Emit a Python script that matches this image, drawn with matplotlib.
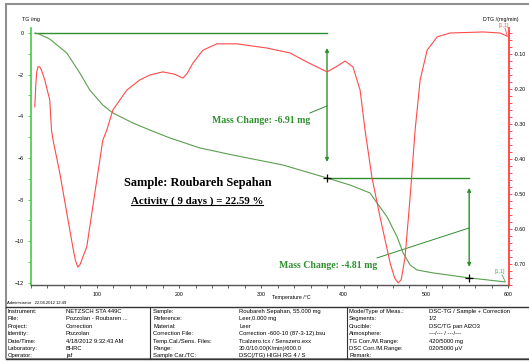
import numpy as np
import matplotlib
matplotlib.use("Agg")
import matplotlib.pyplot as plt
from matplotlib.ticker import MultipleLocator, FormatStrFormatter
from matplotlib.lines import Line2D
from matplotlib.patches import Rectangle

# TG curve (temperature / mass change)
tg_temp = np.array([24.6, 30, 42.8, 63.5, 79.3, 91.5, 107.3, 119.5, 143.8, 164.5, 188.8,
                    225.3, 265.5, 326.3, 379.8, 407.8, 432, 440.6, 452.8, 465, 472.3,
                    480.8, 489.3, 508.8, 552.6, 596.4])
tg_mass = np.array([0, -0.05, -0.29, -0.96, -1.92, -2.74, -3.46, -3.84, -4.32, -4.66, -5.04,
                    -5.52, -5.86, -6.34, -6.96, -7.30, -7.68, -8.16, -8.83, -9.79, -10.56,
                    -11.14, -11.38, -11.52, -11.76, -11.95])

# DTG curve
dtg_temp = np.array([24.6, 25.8, 27.0, 28.6, 30.7, 32.7, 36.7, 42.8, 44.9, 46.8, 55, 63.5,
                     70.8, 74, 76.9, 80, 83, 87.8, 100, 107.3, 112.2, 119.5, 136.5, 152.3,
                     164.5, 180.3, 195, 204.6, 210, 216.8, 229, 246, 270.3, 306.8, 334.8,
                     355.5, 379.8, 392, 401.7, 411.4, 420, 426, 434.5, 444.3, 456.5, 462,
                     466.2, 470, 474.7, 480.8, 486.9, 493, 501.5, 513.7, 529.4, 569.6, 590,
                     598.8])
dtg_val = np.array([-0.251, -0.189, -0.151, -0.136, -0.137, -0.146, -0.174, -0.231, -0.317,
                    -0.346, -0.440, -0.554, -0.651, -0.690, -0.709, -0.700, -0.680, -0.651,
                    -0.460, -0.346, -0.317, -0.260, -0.203, -0.174, -0.160, -0.151, -0.158,
                    -0.169, -0.155, -0.126, -0.089, -0.071, -0.071, -0.083, -0.097, -0.123,
                    -0.151, -0.135, -0.120, -0.137, -0.203, -0.317, -0.454, -0.566, -0.697,
                    -0.740, -0.754, -0.745, -0.680, -0.509, -0.317, -0.174, -0.089, -0.051,
                    -0.040, -0.037, -0.040, -0.049])

# mass change steps: arrow temperature, level before, level after
step1 = (379.8, 0.0, -6.96)
step2 = (552.6, -6.96, -11.76)

info_col1 = [("Instrument:", "NETZSCH STA 449C"), ("File:", "Pozzolan - Roubaren ..."),
             ("Project:", "Correction"), ("Identity:", "Pozzolan"),
             ("Date/Time:", "4/18/2012 9:32:43 AM"), ("Laboratory:", "BHRC"),
             ("Operator:", "jaf")]
info_col2 = [("Sample:", "Roubareh Sepahan, 55.000 mg"), ("Reference:", "Leer,0.000 mg"),
             ("Material:", "Leer"), ("Correction File:", "Correction -600-10 (87-3-12).bsu"),
             ("Temp.Cal./Sens. Files:", "Tcalzero.tcx / Senszero.exx"),
             ("Range:", "30.0/10.00(K/min)/600.0"), ("Sample Car./TC:", "DSC(/TG) HIGH RG 4 / S")]
info_col3 = [("Mode/Type of Meas.:", "DSC-TG / Sample + Correction"), ("Segments:", "1/2"),
             ("Crucible:", "DSC/TG pan Al2O3"), ("Atmosphere:", "---/--- / ---/---"),
             ("TG Corr./M.Range:", "420/5000 mg"), ("DSC Corr./M.Range:", "020/5000 \u00b5V"),
             ("Remark:", "")]

W, H = 529, 363
DGREEN = "#2f8f2f"
TGCOL = "#5c9e50"
RED = "#ff4a4a"
TICKFS = 3.8

plt.rcParams["font.family"] = ["Liberation Sans", "DejaVu Sans"]
fig = plt.figure(figsize=(W / 100, H / 100), dpi=100)


def fx(px):
    return px / W


def fy(py):
    return 1 - py / H


ax = fig.add_axes([fx(31), fy(285), fx(509) - fx(31), fy(28) - fy(285)])
ax2 = ax.twinx()

ax.plot(tg_temp, tg_mass, color=TGCOL, lw=0.8, zorder=3)
ax2.plot(dtg_temp, dtg_val, color=RED, lw=0.8)

ax.set_xlim(20, 601)
ax.set_ylim(-12.1, 0.24)
ax2.set_ylim(-0.760, -0.0257)

# step lines
ax.plot([tg_temp[0], step1[0]], [step1[1], step1[1]], color=DGREEN, lw=1)
ax.plot([step1[0], step2[0]], [step2[1], step2[1]], color=DGREEN, lw=1)
arrow_kw = dict(arrowstyle="<|-|>", color=DGREEN, lw=1, mutation_scale=5, shrinkA=0, shrinkB=0)
ax.annotate("", xy=(step1[0], -6.19), xytext=(step1[0], -0.72), arrowprops=arrow_kw)
ax.annotate("", xy=(step2[0], -11.23), xytext=(step2[0], -7.44), arrowprops=arrow_kw)
ax.plot([step1[0], step2[0]], [step1[2], step2[2]], ls="none", marker="+", color="black",
        ms=6, mew=0.9, zorder=5)
ax.plot([359, 380], [-3.84, -3.50], color=DGREEN, lw=0.7)
ax.plot([440.6, 552.6], [-10.80, -9.36], color=DGREEN, lw=0.7)

serif = ["Liberation Serif", "DejaVu Serif"]
ax.text(300, -4.18, "Mass Change: -6.91 mg", color=DGREEN, fontsize=7, fontweight="bold",
        family=serif, ha="center", va="center")
ax.text(381.6, -11.14, "Mass Change: -4.81 mg", color=DGREEN, fontsize=7, fontweight="bold",
        family=serif, ha="center", va="center")
ax.text(223, -7.20, "Sample: Roubareh Sepahan", color="black", fontsize=8.9,
        fontweight="bold", family=serif, ha="center", va="center")
act = ax.text(222, -8.07, "Activity ( 9 days ) = 22.59 %", color="black", fontsize=7.8,
              fontweight="bold", family=serif, ha="center", va="center")

# axes styling
for s in ["top", "right"]:
    ax.spines[s].set_visible(False)
for s in ["top", "left", "bottom"]:
    ax2.spines[s].set_visible(False)
ax.spines["left"].set_color("#44cc44")
ax.spines["left"].set_linewidth(1.2)
ax.spines["bottom"].set_color("#555555")
ax.spines["bottom"].set_linewidth(1.0)
ax2.spines["right"].set_color("#ff3030")
ax2.spines["right"].set_linewidth(1.2)

ax.xaxis.set_major_locator(MultipleLocator(100))
ax.xaxis.set_minor_locator(MultipleLocator(20))
ax.yaxis.set_major_locator(MultipleLocator(2))
ax.yaxis.set_minor_locator(MultipleLocator(1))
ax2.yaxis.set_major_locator(MultipleLocator(0.1))
ax2.yaxis.set_minor_locator(MultipleLocator(0.02))
ax2.yaxis.set_major_formatter(FormatStrFormatter("%.2f"))
ax.set_xticks([100, 200, 300, 400, 500, 600])

ax.tick_params(axis="x", which="both", direction="out", colors="#444444", labelsize=TICKFS,
               length=2, width=0.6, pad=3, labelcolor="black")
ax.tick_params(axis="y", which="both", direction="out", colors="#44cc44", labelsize=TICKFS,
               length=2, width=0.6, pad=3, labelcolor="black")
ax2.tick_params(axis="y", which="both", direction="out", colors="#ff3030", labelsize=TICKFS,
                length=2, width=0.6, pad=1.5, labelcolor="black")

# axis captions
fig.text(fx(22), fy(20), "TG /mg", fontsize=TICKFS, va="center")
fig.text(fx(501), fy(19), "DTG /(mg/min)", fontsize=TICKFS, va="center", ha="center")
fig.text(fx(504), fy(25), "[1,1]", fontsize=TICKFS, va="center", ha="center", color=RED)
fig.add_artist(Line2D([fx(505), fx(507)], [fy(28), fy(35)], color=RED, lw=0.6))
fig.text(fx(500), fy(272), "[1,1]", fontsize=TICKFS, va="center", ha="center", color=TGCOL)
fig.add_artist(Line2D([fx(502), fx(505)], [fy(275), fy(281)], color=TGCOL, lw=0.6))
fig.text(fx(291), fy(298), "Temperature /\u00b0C", fontsize=TICKFS, va="center", ha="center")
fig.text(fx(7), fy(303), "Administrator   22.04.2012 12:49", fontsize=3, va="center")

# outer frame and info table
fig.patches.append(Rectangle((fx(6), fy(359)), fx(535) - fx(6), fy(4) - fy(359),
                             transform=fig.transFigure, fill=False, ec="#909090", lw=1.5))
fig.add_artist(Line2D([fx(6), fx(535)], [fy(307), fy(307)], color="#333333", lw=1))
fig.add_artist(Line2D([fx(6), fx(535)], [fy(359), fy(359)], color="#333333", lw=1))
for xd in (150, 347):
    fig.add_artist(Line2D([fx(xd), fx(xd)], [fy(307), fy(359)], color="#333333", lw=0.8))

cols = [(info_col1, 8, 66), (info_col2, 153, 239), (info_col3, 349, 429)]
for rows, xk, xv in cols:
    for i, (k, v) in enumerate(rows):
        yy = 311.5 + i * 7.4
        fig.text(fx(xk), fy(yy), k, fontsize=4.2, va="center")
        fig.text(fx(xv), fy(yy), v, fontsize=4.2, va="center")

# underline for the activity text
fig.canvas.draw()
bb = act.get_window_extent()
fig.add_artist(Line2D([bb.x0 / W, bb.x1 / W], [(bb.y0 + 0.5) / H, (bb.y0 + 0.5) / H],
                      color="black", lw=0.8))

fig.savefig("out.png", dpi=100)
